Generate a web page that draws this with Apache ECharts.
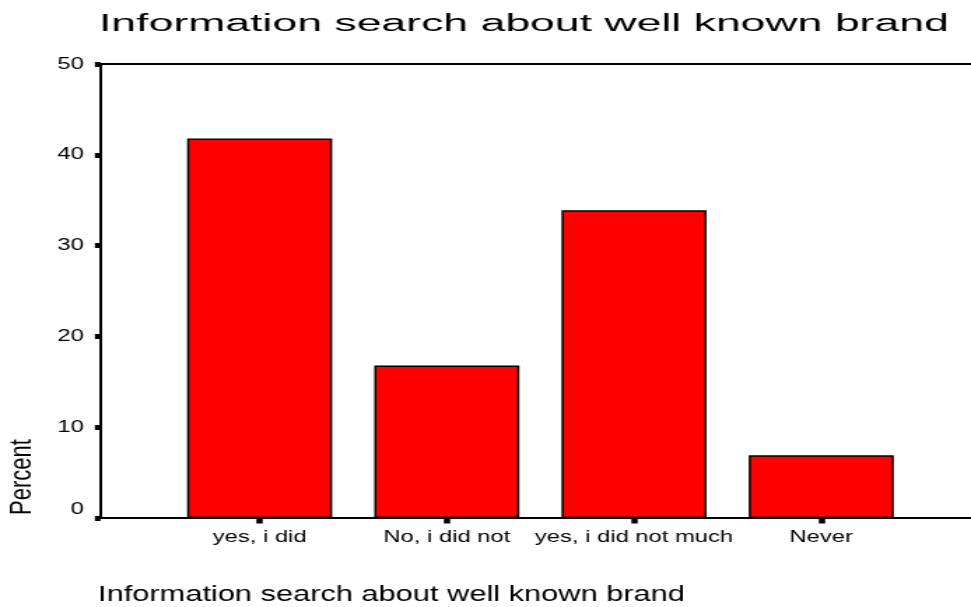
<!DOCTYPE html>
<html>
<head>
<meta charset="utf-8">
<script src="https://cdn.jsdelivr.net/npm/echarts@6/dist/echarts.min.js"></script>
<style>
  html, body { margin: 0; padding: 0; background: #fff; overflow: hidden; }
  /* the chart is laid out narrow and widened horizontally, like the wide-set SPSS lettering */
  #chart { width: 694px; height: 607px; transform: scaleX(1.39914); transform-origin: 0 0; }
</style>
</head>
<body>
<div id="chart"></div>
<script>
// Survey answers and their share of respondents (%)
const categories = ['yes, i did', 'No, i did not', 'yes, i did not much', 'Never'];
const percentValues = [41.8, 16.8, 33.9, 6.9];
const chartTitle = 'Information search about well known brand';
const xAxisTitle = 'Information search about well known brand';
const yAxisTitle = 'Percent';

const K = 971 / 694;              // horizontal widening factor
const px = v => v / K;            // screen x -> layout x
const FONT = "'Liberation Sans', Arial, sans-serif";

const chart = echarts.init(document.getElementById('chart'), null, { renderer: 'canvas' });

const positions = categories.map((_, i) => i);

chart.setOption({
  animation: false,
  backgroundColor: '#ffffff',
  grid: { left: px(100.5), right: 0, top: 64, bottom: 89, containLabel: false },
  xAxis: [
    {
      type: 'value',
      min: -0.85,
      max: 3.8,
      splitLine: { show: false },
      axisLine: { show: true, onZero: false, lineStyle: { color: '#000', width: 1.8 } },
      axisTick: {
        show: true, inside: false, length: 5.5,
        customValues: positions,
        lineStyle: { color: '#000', width: 4.5 }
      },
      axisLabel: {
        show: true, margin: 11,
        customValues: positions,
        color: '#000', fontFamily: FONT, fontSize: 17,
        formatter: v => categories[Math.round(v)]
      }
    },
    {
      type: 'value',
      position: 'top',
      min: -0.85,
      max: 3.8,
      splitLine: { show: false },
      axisLine: { show: true, onZero: false, lineStyle: { color: '#000', width: 1.8 } },
      axisTick: { show: false },
      axisLabel: { show: false }
    }
  ],
  yAxis: {
    type: 'value',
    min: 0,
    max: 50,
    interval: 10,
    splitLine: { show: false },
    axisLine: { show: true, onZero: false, lineStyle: { color: '#000', width: 2 } },
    axisTick: { show: true, inside: false, length: 4, lineStyle: { color: '#000', width: 5 } },
    axisLabel: {
      margin: 12, color: '#000', fontFamily: FONT, fontSize: 17,
      formatter: v => (v === 0 ? '{z|0}' : String(v)),
      rich: { z: { fontFamily: FONT, fontSize: 17, color: '#000', padding: [0, 0, 18, 0] } }
    }
  },
  series: [{
    type: 'bar',
    xAxisIndex: 0,
    barWidth: px(145),
    data: positions.map(i => [i, percentValues[i]]),
    itemStyle: { color: '#ff0000', borderColor: '#000', borderWidth: 1.5 }
  }],
  graphic: [
    {
      type: 'text',
      x: px(99), y: 24.5, scaleX: 1.385,
      style: { text: chartTitle, font: '23px ' + FONT, fill: '#000', align: 'left', verticalAlign: 'middle' }
    },
    {
      type: 'text',
      x: px(98), y: 595,
      style: { text: xAxisTitle, font: '22px ' + FONT, fill: '#000', align: 'left', verticalAlign: 'middle' }
    },
    {
      type: 'text',
      x: px(22), y: 477, rotation: Math.PI / 2,
      style: { text: yAxisTitle, font: '22px ' + FONT, fill: '#000', align: 'center', verticalAlign: 'middle' }
    }
  ]
});
</script>
</body>
</html>
